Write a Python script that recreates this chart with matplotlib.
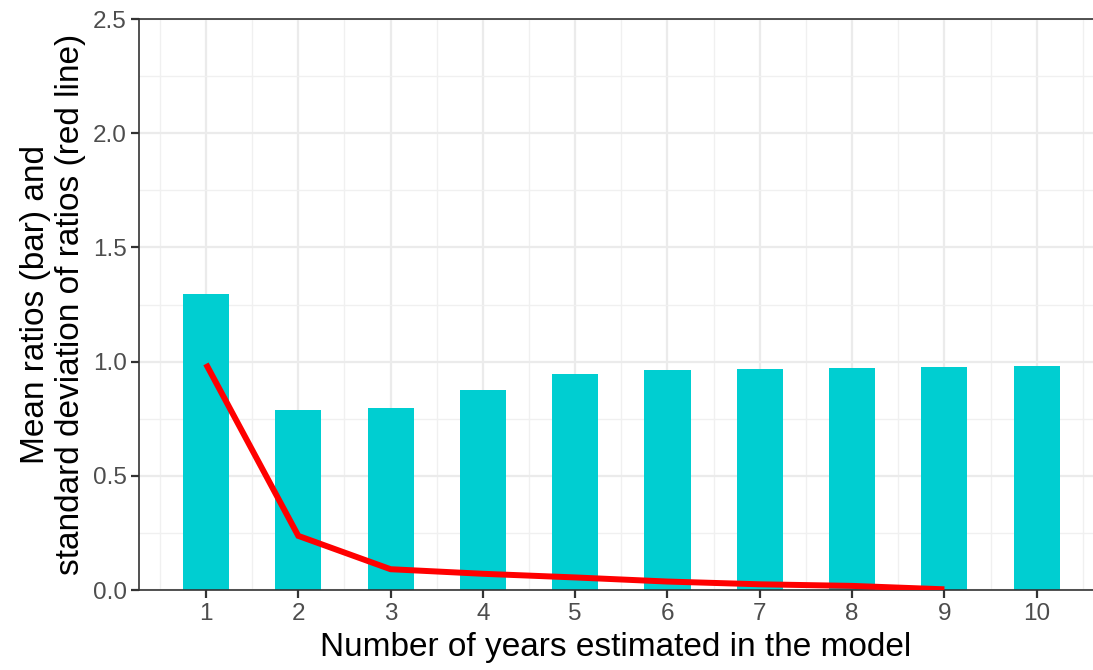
import numpy as np
import matplotlib.pyplot as plt
from matplotlib.ticker import MultipleLocator

plt.rcParams['font.family'] = ['Liberation Sans', 'DejaVu Sans']

# Data
years = [1, 2, 3, 4, 5, 6, 7, 8, 9, 10]
mean_ratio = [1.298, 0.786, 0.797, 0.877, 0.946, 0.964, 0.969, 0.972, 0.975, 0.982]
sd_years = [1, 2, 3, 4, 5, 6, 7, 8, 9]
sd_ratio = [0.990, 0.237, 0.091, 0.071, 0.055, 0.037, 0.025, 0.018, 0.003]

fig = plt.figure(figsize=(10.93, 6.70), dpi=100)
ax = fig.add_axes([0.1274, 0.1194, 0.8726, 0.8522])

ax.bar(years, mean_ratio, width=0.5, color="#00CED1", zorder=2)
ax.plot(sd_years, sd_ratio, color="#FF0000", linewidth=4.3, zorder=3,
        solid_joinstyle="miter", solid_capstyle="butt")

ax.set_xlim(0.277, 10.61)
ax.set_ylim(0, 2.5)
ax.set_xticks(years)
ax.set_yticks(np.arange(0, 2.51, 0.5))
ax.set_yticklabels(["0.0", "0.5", "1.0", "1.5", "2.0", "2.5"])
ax.xaxis.set_minor_locator(plt.FixedLocator(np.arange(0.5, 11, 1)))
ax.yaxis.set_minor_locator(MultipleLocator(0.25))

ax.grid(which="major", color="#EBEBEB", linewidth=1.6, zorder=0)
ax.grid(which="minor", color="#F0F0F0", linewidth=1.0, zorder=0)
ax.set_axisbelow(True)

for s in ["left", "bottom", "top"]:
    ax.spines[s].set_color("#333333")
    ax.spines[s].set_linewidth(1.2)
ax.spines["right"].set_visible(False)

ax.tick_params(which="major", direction="out", length=5.5, width=1.6,
               color="#333333", labelsize=17.5, labelcolor="#4D4D4D")
ax.tick_params(axis="x", which="major", pad=4)
ax.tick_params(axis="y", which="major", pad=3.5)
ax.tick_params(which="minor", length=0)

ax.set_xlabel("Number of years estimated in the model", fontsize=24,
              color="black", labelpad=5)
ax.set_ylabel("Mean ratios (bar) and\nstandard deviation of ratios (red line)",
              fontsize=24, color="black", labelpad=5, linespacing=1.15)

fig.savefig("out.png", dpi=100)
